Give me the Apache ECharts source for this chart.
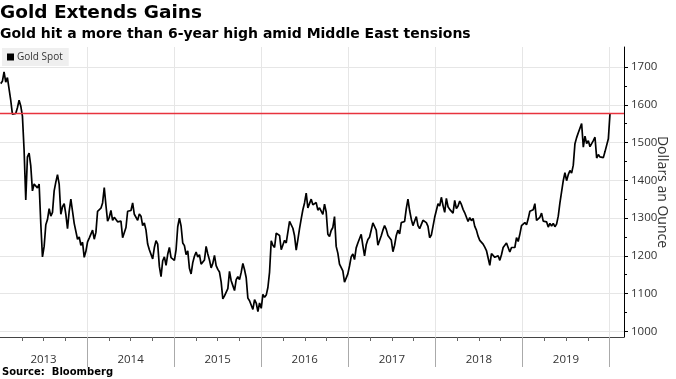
<!DOCTYPE html>
<html><head><meta charset="utf-8">
<script src="https://cdn.jsdelivr.net/npm/echarts@6/dist/echarts.min.js"></script>
<style>html,body{margin:0;padding:0;background:#fff}#c{width:676px;height:379px}</style>
</head><body><div id="c"></div>
<script>
// First weekly observation (Friday) of each year
const firstFridays = ['2013-01-04','2014-01-03','2015-01-02','2016-01-01','2017-01-06','2018-01-05','2019-01-04','2020-01-03'];

// Weekly gold spot, dollars an ounce
const gold2013 = [1656,1662,1687,1660,1672,1667,1612,1575,1578,1577,1592,1612,1597,1570,1480,1348,1462,1472,1438,1372,1390,1395,1380,1390,1285,1197,1225,1282,1296,1325,1305,1315,1372,1395,1415,1390,1310,1330,1338,1310,1272,1318,1350,1318,1286,1288,1244,1250,1228,1236,1196,1212];
const gold2014 = [1237,1247,1252,1268,1244,1262,1318,1322,1326,1340,1381,1334,1292,1302,1320,1294,1302,1300,1290,1294,1292,1248,1252,1275,1318,1318,1320,1340,1310,1305,1294,1311,1305,1280,1287,1268,1231,1216,1217,1192,1222,1240,1231,1172,1145,1187,1197,1175,1204,1222,1195,1195];
const gold2015 = [1188,1216,1277,1300,1279,1234,1227,1203,1213,1167,1152,1182,1199,1210,1197,1203,1178,1179,1189,1225,1205,1189,1168,1180,1201,1174,1164,1157,1131,1086,1094,1092,1113,1159,1134,1121,1108,1137,1145,1137,1156,1180,1163,1142,1088,1081,1076,1058,1084,1075,1052,1075];
const gold2016 = [1061,1098,1090,1096,1116,1157,1240,1228,1222,1260,1256,1254,1216,1221,1241,1234,1233,1291,1289,1273,1253,1215,1243,1272,1298,1322,1340,1366,1327,1323,1350,1335,1336,1341,1321,1327,1328,1310,1337,1316,1257,1251,1267,1275,1304,1225,1207,1178,1177,1160,1130,1133,1152];
const gold2017 = [1173,1197,1205,1190,1221,1234,1237,1257,1227,1200,1229,1243,1249,1253,1287,1284,1268,1228,1228,1253,1268,1280,1270,1254,1256,1242,1211,1228,1254,1268,1258,1288,1285,1291,1325,1350,1320,1297,1280,1275,1304,1280,1272,1274,1294,1293,1288,1278,1248,1255,1278,1302];
const gold2018 = [1320,1338,1332,1355,1333,1315,1352,1330,1323,1323,1313,1347,1325,1332,1345,1336,1323,1314,1318,1291,1301,1293,1299,1278,1268,1252,1241,1241,1231,1223,1214,1212,1175,1206,1201,1196,1194,1200,1188,1203,1222,1227,1234,1232,1210,1222,1223,1222,1248,1238,1257,1280];
const gold2019 = [1285,1288,1282,1298,1318,1315,1322,1338,1294,1298,1302,1313,1292,1292,1290,1276,1286,1279,1286,1277,1284,1305,1340,1341,1399,1420,1399,1415,1426,1419,1440,1497,1513,1526,1529,1550,1488,1517,1497,1505,1489,1490,1505,1514,1459,1468,1462,1464,1460,1476,1479,1510];
const gold2020 = [1578];

const yearLabels = ['2013','2014','2015','2016','2017','2018','2019'];
const yearBounds = [2014,2015,2016,2017,2018,2019,2020];
const yLabelValues = [1000,1100,1200,1300,1400,1500,1600,1700];
const yMinorValues = [1050,1150,1250,1350,1450,1550,1650];
const recentHigh = 1578;

const seriesByYear = [gold2013,gold2014,gold2015,gold2016,gold2017,gold2018,gold2019,gold2020];
function yearFrac(t){
  const d = new Date(t); const y = d.getUTCFullYear();
  const a = Date.UTC(y,0,1), b = Date.UTC(y+1,0,1);
  return y + (t - a) / (b - a);
}
const data = [];
seriesByYear.forEach((vals, k) => {
  const t0 = Date.parse(firstFridays[k] + 'T00:00:00Z');
  vals.forEach((v, i) => data.push([yearFrac(t0 + i * 7 * 86400000), v]));
});
const quarterTicks = [];
yearLabels.forEach(y => { [0.25,0.5,0.75].forEach(q => quarterTicks.push(+y + q)); });
const labelPos = yearLabels.map(y => +y + 0.5);

const XMIN = 2013, XMAX = 2020.166, YMIN = 985, YMAX = 1753;
const FONT = '"Open Sans", sans-serif';
const RED = '#e8333d';

const chart = echarts.init(document.getElementById('c'), null, {renderer:'canvas'});
chart.setOption({
  animation: false,
  backgroundColor: '#fff',
  title: [
    {text: 'Gold Extends Gains', left: 0, top: 4, padding: 0,
     textStyle: {fontFamily: 'DejaVu Sans', fontWeight: 'bold', fontSize: 18.5, color: '#000'}},
    {text: 'Gold hit a more than 6-year high amid Middle East tensions', left: 0, top: 27, padding: 0,
     textStyle: {fontFamily: 'DejaVu Sans', fontWeight: 'bold', fontSize: 14, color: '#000'}},
    {text: 'Source:  Bloomberg', left: 2, top: 367, padding: 0,
     textStyle: {fontFamily: 'DejaVu Sans', fontWeight: 'bold', fontSize: 10, color: '#000'}}
  ],
  legend: {
    data: ['Gold Spot'], left: 2, top: 48, icon: 'rect', itemWidth: 7, itemHeight: 7,
    backgroundColor: '#efefef', padding: [4, 6, 4, 5], selectedMode: false,
    textStyle: {fontFamily: FONT, fontSize: 10, color: '#333', padding: [0,0,0,-2]}
  },
  grid: {left: 0, right: 52, top: 47, bottom: 42, containLabel: false, outerBoundsMode: 'none'},
  xAxis: [
    {type: 'value', min: XMIN, max: XMAX, interval: 1,
     axisLine: {show: true, lineStyle: {color: '#444', width: 1}},
     axisTick: {show: true, customValues: yearBounds, length: 30, lineStyle: {color: '#aaa'}},
     axisLabel: {show: true, customValues: labelPos, margin: 17,
       formatter: v => String(Math.floor(v)), fontFamily: FONT, fontSize: 11.5, color: '#333'},
     splitLine: {show: true, lineStyle: {color: '#e6e6e6'}}},
    {type: 'value', min: XMIN, max: XMAX, position: 'bottom',
     axisLine: {show: false},
     axisTick: {show: true, customValues: quarterTicks, length: 4, lineStyle: {color: '#666'}},
     axisLabel: {show: false}, splitLine: {show: false}}
  ],
  yAxis: [
    {type: 'value', position: 'right', min: YMIN, max: YMAX, splitNumber: 8,
     name: 'Dollars an Ounce', nameLocation: 'middle', nameRotate: -90, nameGap: 31,
     nameMoveOverlap: false,
     nameTextStyle: {fontFamily: FONT, fontSize: 14, color: '#333'},
     axisLine: {show: true, lineStyle: {color: '#000'}},
     axisTick: {show: true, customValues: yLabelValues, length: 4, lineStyle: {color: '#000'}},
     axisLabel: {customValues: yLabelValues, margin: 7, formatter: v => String(v),
       fontFamily: FONT, fontSize: 11.5, color: '#333'},
     splitLine: {show: true, lineStyle: {color: '#e6e6e6'}}},
    {type: 'value', position: 'right', min: YMIN, max: YMAX,
     axisLine: {show: false},
     axisTick: {show: true, customValues: yMinorValues, length: 3, lineStyle: {color: '#000'}},
     axisLabel: {show: false}, splitLine: {show: false}}
  ],
  color: [RED],
  series: [
    {
      name: 'Recent high', type: 'line', data: [], xAxisIndex: 0, yAxisIndex: 0,
      color: RED, z: 3,
      markLine: {silent: true, symbol: ['none','none'], label: {show: false},
        lineStyle: {color: RED, width: 1.3, type: 'solid', opacity: 1},
        emphasis: {disabled: true},
        data: [{yAxis: recentHigh}]}
    },
    {
      name: 'Gold Spot', type: 'line', data: data, xAxisIndex: 0, yAxisIndex: 0,
      showSymbol: false, symbol: 'none', z: 2,
      itemStyle: {color: '#000'},
      lineStyle: {color: '#000', width: 1.7}
    }
  ]
});
</script></body></html>
